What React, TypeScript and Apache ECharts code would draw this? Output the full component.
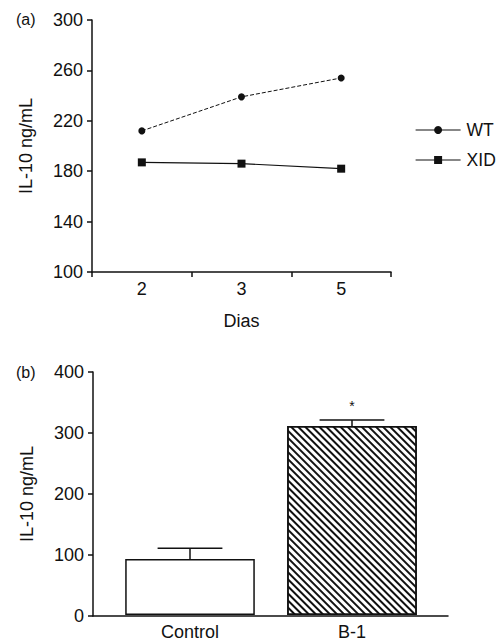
import React, { useEffect, useRef } from "react";
import * as echarts from "echarts";

const days = ["2", "3", "5"];
const wtValues = [212, 239, 254];
const xidValues = [187, 186, 182];

const groups = ["Control", "B-1"];
const barMeans = [92, 311];
const barUpper = [110, 321];
const significance = ["", "*"];

const FONT = "'Liberation Sans', Arial, Helvetica, sans-serif";
const INK = "#111";
const FS = 18;

export default function App() {
  const ref = useRef<HTMLDivElement>(null);
  useEffect(() => {
    if (!ref.current) return;
    const chart = echarts.init(ref.current, null, { renderer: "svg" });
    const axisLine = { show: true, lineStyle: { color: INK, width: 1.5 } };
    const axisLabel = { color: INK, fontSize: FS, fontFamily: FONT };
    const errorData = groups.map((g, i) => [i, barMeans[i], barUpper[i]]);
    const option: any = {
      animation: false,
      backgroundColor: "#fff",
      textStyle: { fontFamily: FONT },
      graphic: [
        { type: "text", left: 16, top: 11, style: { text: "(a)", fontSize: 16, fontFamily: FONT, fill: INK } },
        { type: "text", left: 16, top: 364, style: { text: "(b)", fontSize: 16, fontFamily: FONT, fill: INK } },
      ],
      legend: {
        data: ["WT", "XID"],
        orient: "vertical",
        left: 410,
        top: 116,
        itemWidth: 45,
        itemHeight: 10,
        itemGap: 12,
        lineStyle: { type: "solid", width: 1.2 },
        textStyle: { color: INK, fontSize: 17.5, fontFamily: FONT, padding: [0, 0, 0, 1] },
      },
      grid: [
        { left: 92, top: 20, width: 299, height: 252 },
        { left: 93, top: 372, width: 355, height: 244 },
        { left: 109, top: 372, width: 324, height: 244 },
      ],
      xAxis: [
        {
          gridIndex: 0,
          type: "category",
          data: days,
          boundaryGap: true,
          axisLine,
          axisTick: { show: true, alignWithLabel: false, length: 5, lineStyle: { color: INK, width: 1.5 } },
          axisLabel: { ...axisLabel, margin: 8 },
          name: "Dias",
          nameLocation: "middle",
          nameGap: 40,
          nameTextStyle: { color: INK, fontSize: FS, fontFamily: FONT },
        },
        {
          gridIndex: 1,
          type: "value",
          min: 0,
          max: 1,
          axisLine,
          axisTick: { show: false },
          axisLabel: { show: false },
          splitLine: { show: false },
        },
        {
          gridIndex: 2,
          type: "category",
          data: groups,
          boundaryGap: true,
          axisLine: { show: false },
          axisTick: { show: false },
          axisLabel: { ...axisLabel, margin: 8 },
        },
      ],
      yAxis: [
        {
          gridIndex: 0,
          type: "value",
          min: 100,
          max: 300,
          interval: 40,
          axisLine,
          axisTick: { show: true, length: 5, lineStyle: { color: INK, width: 1.5 } },
          axisLabel: { ...axisLabel, margin: 9 },
          splitLine: { show: false },
          name: "IL-10 ng/mL",
          nameLocation: "middle",
          nameGap: 57,
          nameTextStyle: { color: INK, fontSize: FS, fontFamily: FONT },
        },
        {
          gridIndex: 1,
          type: "value",
          min: 0,
          max: 400,
          interval: 100,
          axisLine,
          axisTick: { show: true, length: 5, lineStyle: { color: INK, width: 1.5 } },
          axisLabel: { ...axisLabel, margin: 9 },
          splitLine: { show: false },
          name: "IL-10 ng/mL",
          nameLocation: "middle",
          nameGap: 57,
          nameTextStyle: { color: INK, fontSize: FS, fontFamily: FONT },
        },
        {
          gridIndex: 2,
          type: "value",
          min: 0,
          max: 400,
          show: false,
        },
      ],
      series: [
        {
          name: "WT",
          type: "line",
          xAxisIndex: 0,
          yAxisIndex: 0,
          data: wtValues,
          symbol: "circle",
          symbolSize: 7,
          itemStyle: { color: INK },
          lineStyle: { color: INK, width: 1, type: [4, 2] },
        },
        {
          name: "XID",
          type: "line",
          xAxisIndex: 0,
          yAxisIndex: 0,
          data: xidValues,
          symbol: "rect",
          symbolSize: 8,
          itemStyle: { color: INK },
          lineStyle: { color: INK, width: 1.2 },
        },
        {
          type: "bar",
          xAxisIndex: 2,
          yAxisIndex: 2,
          barWidth: "80%",
          data: barMeans.map((v, i) => ({
            value: v,
            itemStyle:
              i === 1
                ? {
                    color: "#fff",
                    borderColor: INK,
                    borderWidth: 1.5,
                    decal: {
                      symbol: "rect",
                      symbolSize: 1,
                      dashArrayX: [1, 0],
                      dashArrayY: [1.4, 2.2],
                      rotation: Math.PI / 4,
                      color: INK,
                    },
                  }
                : { color: "#fff", borderColor: INK, borderWidth: 1.5 },
          })),
        },
        {
          type: "custom",
          xAxisIndex: 2,
          yAxisIndex: 2,
          data: errorData,
          z: 5,
          renderItem: (params: any, api: any) => {
            const x = api.value(0);
            const base = api.coord([x, api.value(1)]);
            const top = api.coord([x, api.value(2)]);
            const half = api.size([1, 0])[0] * 0.2;
            const mark = significance[params.dataIndex];
            const children: any[] = [
              { type: "line", shape: { x1: base[0], y1: base[1], x2: top[0], y2: top[1] }, style: { stroke: INK, lineWidth: 1.5 } },
              { type: "line", shape: { x1: top[0] - half, y1: top[1], x2: top[0] + half, y2: top[1] }, style: { stroke: INK, lineWidth: 1.5 } },
            ];
            if (mark) {
              children.push({
                type: "text",
                x: top[0],
                y: top[1] - 7,
                style: { text: mark, fontSize: 14, fontFamily: FONT, fill: INK, align: "center", verticalAlign: "bottom" },
              });
            }
            return { type: "group", children };
          },
        },
      ],
    };
    chart.setOption(option);
    return () => chart.dispose();
  }, []);
  return (
    <div
      ref={ref}
      style={{ position: "absolute", left: 0, top: 0, width: 501, height: 641, background: "#fff" }}
    />
  );
}
